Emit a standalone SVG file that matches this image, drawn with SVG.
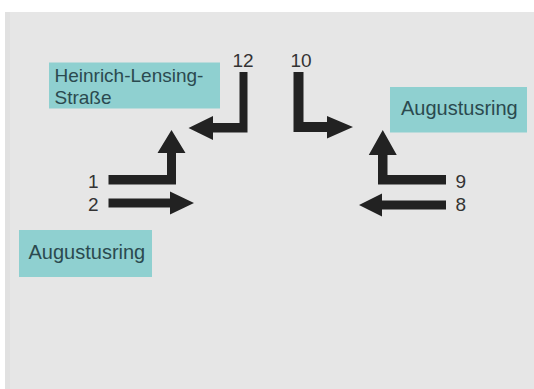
<svg xmlns="http://www.w3.org/2000/svg" width="534" height="389" viewBox="0 0 534 389">
  <style>
    .box { fill: #8fd0d0; }
    .boxtext { font-family: "Liberation Sans", Arial, sans-serif; font-size: 20px; fill: #2b4a4f; }
    .boxtext2 { font-family: "Liberation Sans", Arial, sans-serif; font-size: 19px; fill: #2b4a4f; }
    .num { font-family: "Liberation Sans", Arial, sans-serif; font-size: 19px; fill: #333333; }
    .arrow { fill: #222222; }
  </style>
  <rect x="0" y="0" width="534" height="389" fill="#ffffff"/>
  <rect x="5" y="12" width="529" height="377" fill="#e6e6e6"/>
  <rect x="5" y="12" width="5" height="377" fill="#e1e1e1"/>

  <g id="node-heinrich">
    <rect class="box" x="49" y="62.5" width="171" height="46"/>
    <text class="boxtext2" x="54.5" y="82">Heinrich-Lensing-</text>
    <text class="boxtext2" x="54.5" y="103.5">Straße</text>
  </g>
  <g id="node-augustusring-right">
    <rect class="box" x="390" y="87" width="137" height="45.5"/>
    <text class="boxtext" x="401" y="114.5">Augustusring</text>
  </g>
  <g id="node-augustusring-left">
    <rect class="box" x="19" y="230" width="133" height="47"/>
    <text class="boxtext" x="28.5" y="258.5">Augustusring</text>
  </g>

  <g id="labels">
    <text class="num" x="232.5" y="66.5">12</text>
    <text class="num" x="290.5" y="66.5">10</text>
    <text class="num" x="98.5" y="187.5" text-anchor="end">1</text>
    <text class="num" x="98.5" y="210.5" text-anchor="end">2</text>
    <text class="num" x="455.5" y="187.5">9</text>
    <text class="num" x="455.5" y="210.5">8</text>
  </g>

  <g id="connectors">
    <polygon id="arrow-12" class="arrow" points="239.5,72 247.5,72 247.5,132.5 213,132.5 213,140 188.5,128 213,116 213,123 239.5,123"/>
    <polygon id="arrow-10" class="arrow" points="293.5,72 303.5,72 303.5,122 327,122 327,116 353,127 327,138.5 327,132 293.5,132"/>
    <polygon id="arrow-1" class="arrow" points="108.5,175 167,175 167,153 157.5,153 171.5,130 185.5,153 176,153 176,184.5 108.5,184.5"/>
    <polygon id="arrow-2" class="arrow" points="108.5,198.5 170,198.5 170,191.5 194,203 170,214.5 170,207.5 108.5,207.5"/>
    <polygon id="arrow-9" class="arrow" points="446,175 387.5,175 387.5,155 396.75,155 382.75,130 368.75,155 378,155 378,184.5 446,184.5"/>
    <polygon id="arrow-8" class="arrow" points="446,200.5 382,200.5 382,193.5 359,205 382,216.5 382,209.5 446,209.5"/>
  </g>
</svg>
